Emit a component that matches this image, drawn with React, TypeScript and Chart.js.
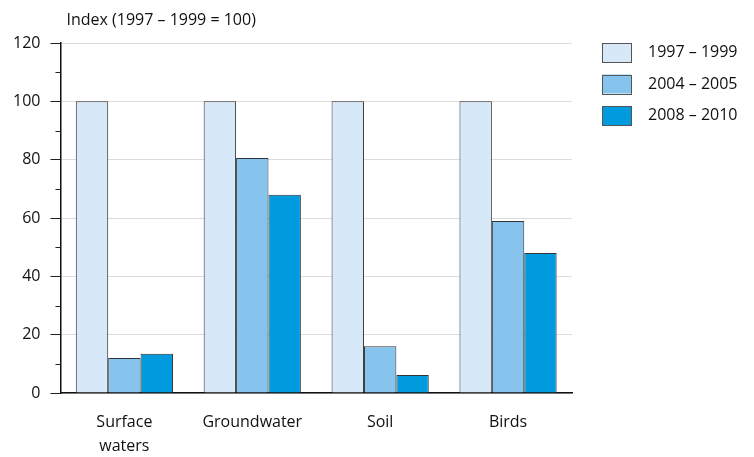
import React, { useEffect, useRef } from "react";
import { Chart, registerables } from "chart.js";
Chart.register(...registerables);

const categories: (string | string[])[] = [["Surface", "waters"], "Groundwater", "Soil", "Birds"];
const seriesNames = ["1997 – 1999", "2004 – 2005", "2008 – 2010"];
const s1997 = [100, 100, 100, 100];
const s2004 = [12, 80.6, 16, 59];
const s2008 = [13.5, 68, 6.2, 48];
const colors = ["#d7e8f8", "#86c4ee", "#009bde"];
const yTitle = "Index (1997 – 1999 = 100)";
const FONT = "'Open Sans', sans-serif";

export default function App() {
  const ref = useRef<HTMLCanvasElement | null>(null);
  useEffect(() => {
    if (!ref.current) return;
    const extras = {
      id: "extras",
      afterDraw(chart: any) {
        const ctx = chart.ctx;
        const y = chart.scales.y;
        const area = chart.chartArea;
        ctx.save();
        ctx.strokeStyle = "#222";
        ctx.lineWidth = 1;
        for (let v = 10; v < 120; v += 20) {
          const py = Math.round(y.getPixelForValue(v)) + 0.5;
          ctx.beginPath();
          ctx.moveTo(area.left - 5, py);
          ctx.lineTo(area.left, py);
          ctx.stroke();
        }
        ctx.fillStyle = "#111";
        ctx.font = "16px " + FONT;
        ctx.textBaseline = "middle";
        ctx.textAlign = "left";
        ctx.fillText(yTitle, area.left + 6, 20);
        // legend
        const lx = 602;
        chart.data.datasets.forEach((ds: any, i: number) => {
          const top = 43 + i * 31.5;
          ctx.fillStyle = ds.backgroundColor;
          ctx.fillRect(lx, top, 29, 19);
          ctx.strokeStyle = "#555";
          ctx.lineWidth = 1;
          ctx.strokeRect(lx + 0.5, Math.round(top) + 0.5, 29, 19);
          ctx.fillStyle = "#111";
          ctx.fillText(ds.label, 648, top + 9.5);
        });
        ctx.restore();
      },
    };
    const data = [s1997, s2004, s2008];
    const chart = new Chart(ref.current, {
      type: "bar",
      data: {
        labels: categories,
        datasets: seriesNames.map((n, i) => ({
          label: n,
          data: data[i],
          backgroundColor: colors[i],
          borderColor: "#333",
          borderWidth: 1,
          categoryPercentage: 0.76,
          barPercentage: 1,
        })),
      },
      options: {
        animation: false,
        responsive: false,
        layout: { padding: { top: 43, left: 3, right: 182, bottom: 0 } },
        plugins: {
          tooltip: { enabled: false },
          title: { display: false },
          legend: { display: false },
        },
        scales: {
          x: {
            grid: { display: false, drawTicks: false },
            border: { color: "#111", width: 1.5 },
            ticks: { color: "#111", font: { family: FONT, size: 16, lineHeight: 1.5 }, padding: 17 },
            afterFit: (s: any) => { s.height = 64; },
          },
          y: {
            min: 0,
            max: 120,
            ticks: { stepSize: 20, color: "#111", font: { family: FONT, size: 16 }, padding: 10 },
            grid: { color: "#dcdcdc", tickColor: "#222", tickLength: 10, lineWidth: 1 },
            border: { color: "#111", width: 1.5 },
          },
        },
      },
      plugins: [extras],
    });
    return () => chart.destroy();
  }, []);
  return (
    <div style={{ position: "fixed", left: 0, top: 0, width: 754, height: 457, background: "#fff" }}>
      <canvas ref={ref} width={754} height={457} />
    </div>
  );
}
